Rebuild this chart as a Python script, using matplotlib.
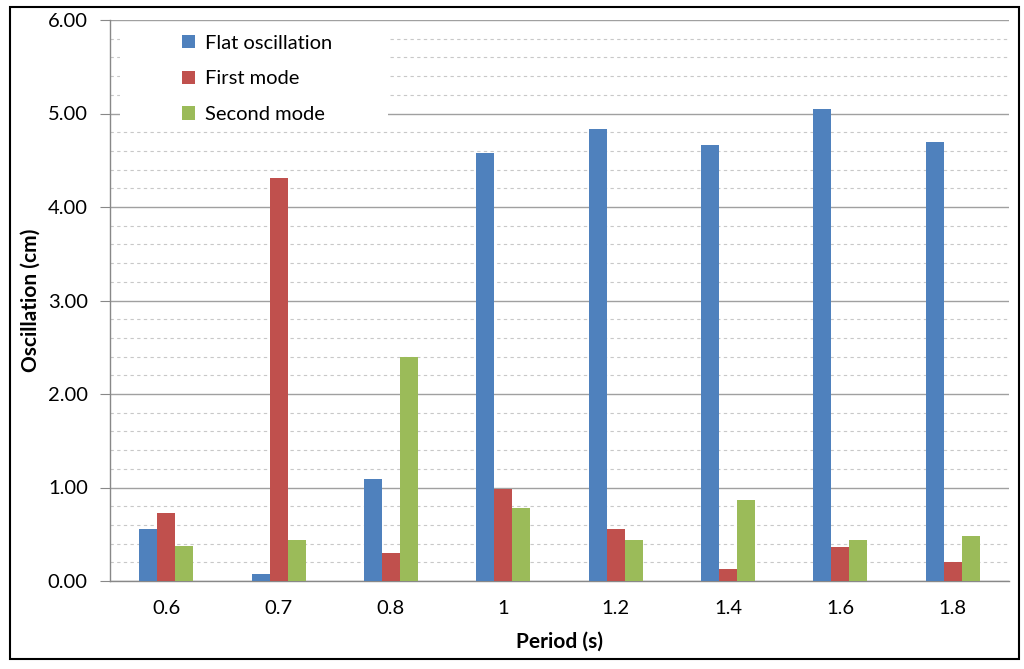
import matplotlib
matplotlib.use("Agg")
import matplotlib.pyplot as plt
from matplotlib.patches import Rectangle
import numpy as np

categories = ["0.6", "0.7", "0.8", "1", "1.2", "1.4", "1.6", "1.8"]
flat = [0.56, 0.075, 1.09, 4.58, 4.83, 4.66, 5.05, 4.70]
first = [0.73, 4.31, 0.30, 0.98, 0.56, 0.13, 0.36, 0.20]
second = [0.37, 0.435, 2.40, 0.78, 0.435, 0.87, 0.435, 0.48]
series_names = ["Flat oscillation", "First mode", "Second mode"]
colors = ["#4F81BD", "#C0504D", "#9BBB59"]

plt.rcParams['font.family'] = ['Lato', 'DejaVu Sans']

fig = plt.figure(figsize=(10.24, 6.69), dpi=100)
ax = fig.add_axes([110/1024, 1 - 581/669, 899/1024, 561/669])

x = np.arange(len(categories))
w = 0.16
for i, (vals, name, c) in enumerate(zip([flat, first, second], series_names, colors)):
    ax.bar(x + (i - 1) * w, vals, width=w, color=c, label=name, zorder=3)

ax.set_xlim(-0.5, len(categories) - 0.5)
ax.set_ylim(0, 6)
ax.set_yticks(np.arange(0, 6.01, 1))
ax.set_yticklabels([f"{v:.2f}" for v in np.arange(0, 6.01, 1)], fontsize=14.5)
ax.set_yticks(np.arange(0, 6.01, 0.2), minor=True)
ax.set_xticks(x)
ax.set_xticklabels(categories, fontsize=14.5)
ax.tick_params(axis='x', length=0, pad=14)
ax.tick_params(axis='y', which='major', length=7, color='#888888', pad=9)
ax.tick_params(axis='y', which='minor', length=0)
ax.grid(axis='y', which='major', color='#A0A0A0', linewidth=1, zorder=0)
ax.grid(axis='y', which='minor', color='#C8C8C8', linewidth=0.8, linestyle=(0, (3, 3)), zorder=0)
ax.set_axisbelow(True)
for s in ['top', 'right']:
    ax.spines[s].set_visible(False)
for s in ['left', 'bottom']:
    ax.spines[s].set_color('#888888')
    ax.spines[s].set_linewidth(1)

ax.set_ylabel("Oscillation (cm)", fontsize=15, fontweight='bold', labelpad=5)
ax.set_xlabel("Period (s)", fontsize=15, fontweight='bold', labelpad=10)

# white backdrop behind legend (covers gridlines like the original)
ax.add_patch(Rectangle((10/899, 4.86), (388-120)/899, 5.95-4.86,
                       transform=ax.get_yaxis_transform(), facecolor='white',
                       edgecolor='none', zorder=1))

leg = ax.legend(loc='upper left', bbox_to_anchor=(0.080, 0.974), fontsize=14.5,
                handlelength=0.65, handleheight=0.65, handletextpad=0.5,
                labelspacing=0.93, frameon=False, borderpad=0, borderaxespad=0)
leg.set_zorder(5)

fig.patches.append(Rectangle((10/1024, 1 - 659/669), 1009/1024, 652/669,
                             transform=fig.transFigure, fill=False,
                             edgecolor='black', linewidth=1.5))

fig.savefig("out.png", dpi=100)
